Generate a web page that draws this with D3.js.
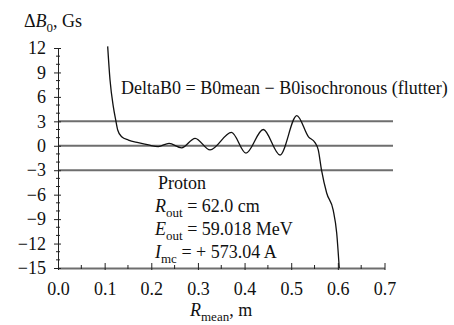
<!DOCTYPE html>
<html>
<head>
<meta charset="utf-8">
<script src="https://cdn.jsdelivr.net/npm/d3@7"></script>
<style>
  body { margin: 0; background: #fff; }
</style>
</head>
<body>
<div id="chart"></div>
<script>
// chart size
var width = 454;
var height = 325;
var serif = "Liberation Serif";

// tick values
var xTicks = [0.0, 0.1, 0.2, 0.3, 0.4, 0.5, 0.6, 0.7];
var xMinor = [0.05, 0.15, 0.25, 0.35, 0.45, 0.55, 0.65];
var yTicks = [12, 9, 6, 3, 0, -3, -6, -9, -12, -15];
var refLines = [3, 0, -3];

// curve: R mean (m) and delta B0 (Gs)
var rMean = [0.1065, 0.1115, 0.1186, 0.1236, 0.128, 0.1365, 0.151, 0.172, 0.194, 0.215,
             0.238, 0.265, 0.294, 0.326, 0.372, 0.403, 0.440, 0.476, 0.512, 0.537,
             0.551, 0.558, 0.565, 0.576, 0.590, 0.5975, 0.603];
var deltaB = [12.2, 8.1, 4.8, 3.2, 1.94, 1.1, 0.7, 0.38, 0.1, -0.1,
              0.3, -0.25, 0.92, -0.5, 1.65, -0.9, 2.0, -1.13, 3.7, 1.1,
              0.38, -0.5, -3.0, -5.8, -7.9, -10.7, -15];

var svg = d3.select("#chart").append("svg")
    .attr("width", width).attr("height", height)
    .attr("font-family", serif);

var x = d3.scaleLinear().domain([0, 0.7]).range([58, 384.5]);
var y = d3.scaleLinear().domain([-15, 12]).range([268, 48]);

// reference lines at +3, 0, -3
svg.selectAll("line.ref")
    .data(refLines).enter()
    .append("line")
    .attr("class", "ref")
    .attr("x1", x(0)).attr("x2", 393)
    .attr("y1", function(d) { return y(d); })
    .attr("y2", function(d) { return y(d); })
    .attr("stroke", "#6e6e6e")
    .attr("stroke-width", 2);

// x axis
var xAxis = svg.append("g")
    .attr("transform", "translate(0," + y(-15) + ")")
    .call(d3.axisBottom(x).tickValues(xTicks).tickFormat(d3.format(".1f"))
        .tickSizeInner(-5).tickSizeOuter(0).tickPadding(14));
xAxis.attr("font-family", serif).attr("font-size", 18);
xAxis.select(".domain").attr("stroke", "#6e6e6e").attr("stroke-width", 2);
xAxis.selectAll(".tick line").attr("y1", 2).attr("stroke", "#222");
xAxis.selectAll("text").attr("font-family", serif).attr("font-size", 18).attr("fill", "#111");

svg.append("g").selectAll("line")
    .data(xMinor).enter()
    .append("line")
    .attr("x1", function(d) { return x(d); })
    .attr("x2", function(d) { return x(d); })
    .attr("y1", y(-15) + 1).attr("y2", y(-15) - 3)
    .attr("stroke", "#222");

// y axis
var yAxis = svg.append("g")
    .attr("transform", "translate(" + x(0) + ",0)")
    .call(d3.axisLeft(y).tickValues(yTicks)
        .tickFormat(function(d) { return d < 0 ? "\u2212" + Math.abs(d) : d; })
        .tickSizeInner(-3).tickSizeOuter(0).tickPadding(12));
yAxis.attr("font-family", serif).attr("font-size", 18);
yAxis.select(".domain").attr("stroke", "#222");
yAxis.selectAll(".tick line").attr("x1", -4).attr("stroke", "#222");
yAxis.selectAll("text").attr("font-family", serif).attr("font-size", 18).attr("fill", "#111");

var yMinor = d3.range(-14, 12).filter(function(d) { return d % 3 !== 0; });
svg.append("g").selectAll("line")
    .data(yMinor).enter()
    .append("line")
    .attr("x1", x(0) - 2).attr("x2", x(0) + 2)
    .attr("y1", function(d) { return y(d); })
    .attr("y2", function(d) { return y(d); })
    .attr("stroke", "#222");

// curve
var pts = rMean.map(function(r, i) { return [r, deltaB[i]]; });
var line = d3.line()
    .x(function(d) { return x(d[0]); })
    .y(function(d) { return y(d[1]); })
    .curve(d3.curveMonotoneX);
svg.append("path")
    .datum(pts)
    .attr("d", line)
    .attr("fill", "none")
    .attr("stroke", "#111")
    .attr("stroke-width", 1.3);

// helper for serif text
function label(xp, yp) {
    return svg.append("text").attr("x", xp).attr("y", yp)
        .attr("font-family", serif).attr("font-size", 18).attr("fill", "#111");
}

// y label
var yl = label(24, 27);
yl.append("tspan").text("\u0394");
yl.append("tspan").attr("font-style", "italic").text("B");
yl.append("tspan").attr("dy", 5).attr("font-size", 13).text("0");
yl.append("tspan").attr("dy", -5).text(", Gs");

// x label
var xl = label(190, 316);
xl.append("tspan").attr("font-style", "italic").text("R");
xl.append("tspan").attr("dy", 5).attr("font-size", 13).text("mean");
xl.append("tspan").attr("dy", -5).text(", m");

// formula note
label(121, 94).text("DeltaB0 = B0mean \u2212 B0isochronous (flutter)");

// info block
var info = [
    { main: "", sub: "", rest: "Proton" },
    { main: "R", sub: "out", rest: " = 62.0 cm" },
    { main: "E", sub: "out", rest: " = 59.018 MeV" },
    { main: "I", sub: "mc", rest: " = + 573.04 A" }
];
var infoY = [189, 212, 235, 258];
info.forEach(function(d, i) {
    var t = label(i === 0 ? 158 : 155, infoY[i]);
    if (d.main) {
        t.append("tspan").attr("font-style", "italic").text(d.main);
        t.append("tspan").attr("dy", 5).attr("font-size", 13).text(d.sub);
        t.append("tspan").attr("dy", -5).text(d.rest);
    } else {
        t.text(d.rest);
    }
});
</script>
</body>
</html>
